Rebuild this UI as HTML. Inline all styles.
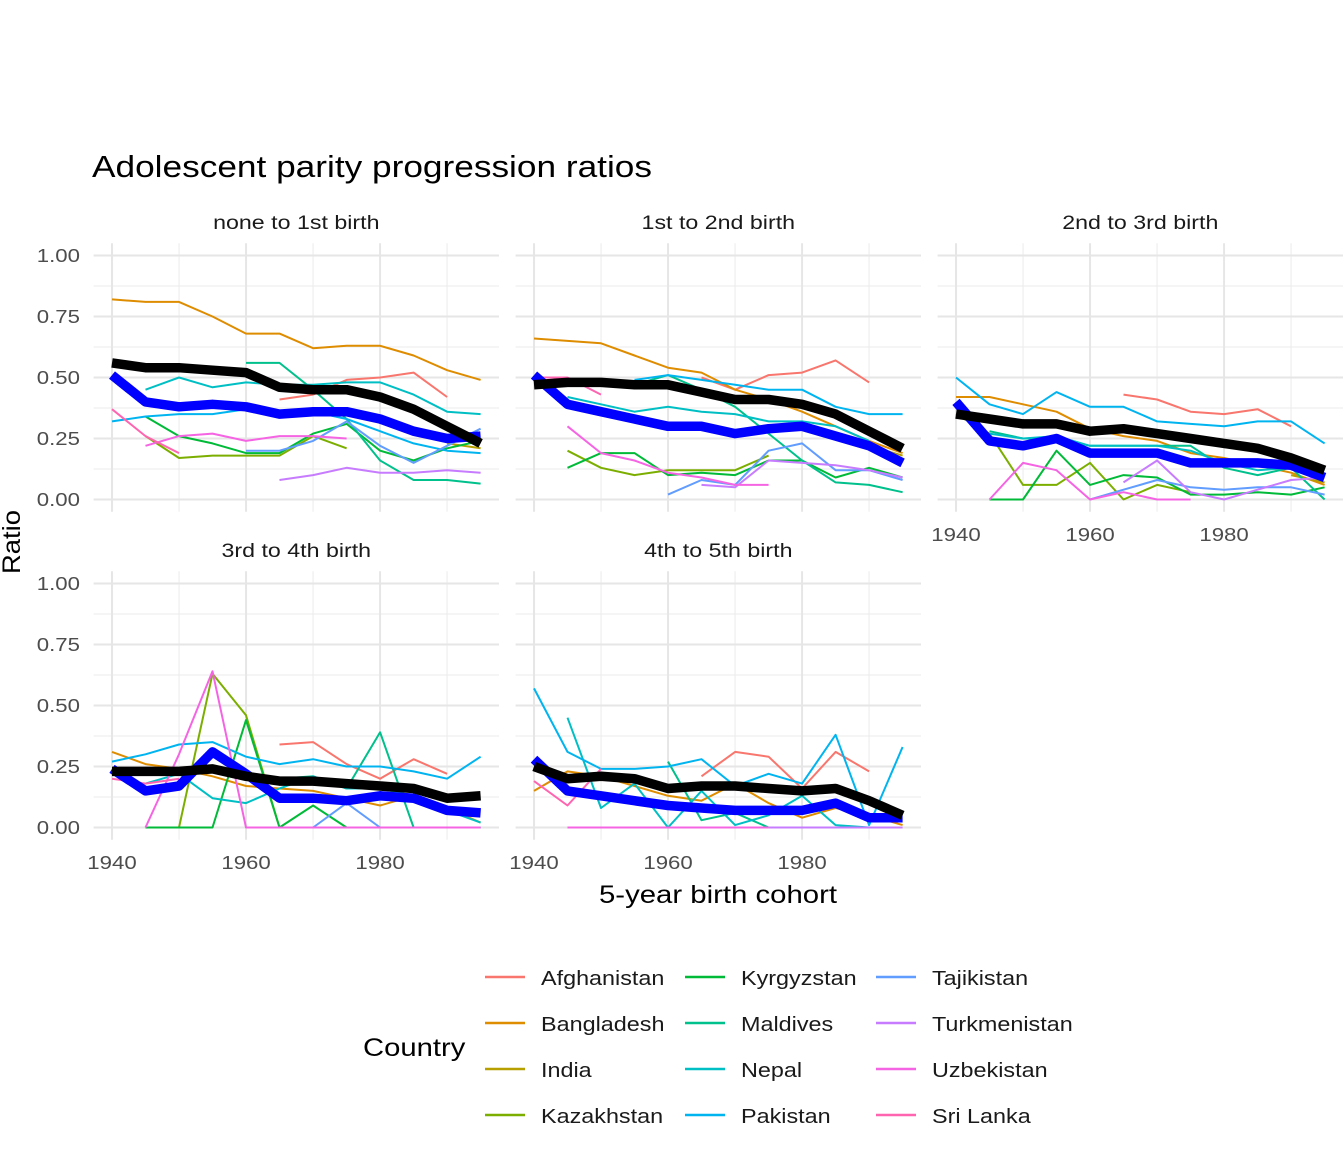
<!DOCTYPE html>
<html><head><meta charset="utf-8"><style>
body{margin:0;background:#fff;}
svg text{font-family:"Liberation Sans",Arial,sans-serif;}
</style></head><body>
<svg id="chart" width="1344" height="1152" xmlns="http://www.w3.org/2000/svg">
<rect width="1344" height="1152" fill="#fff"/>
<text class="wide" x="92" y="177" font-size="31" fill="#000" textLength="560" lengthAdjust="spacingAndGlyphs">Adolescent parity progression ratios</text>
<g id="panels"></g>
<text x="718" y="903" font-size="25" text-anchor="middle" fill="#000" textLength="238" lengthAdjust="spacingAndGlyphs">5-year birth cohort</text>
<text transform="translate(20,542) rotate(-90)" font-size="25" text-anchor="middle" fill="#000" textLength="64" lengthAdjust="spacingAndGlyphs">Ratio</text>
<g id="legend"></g>
</svg>
<script>
const years = [1940,1945,1950,1955,1960,1965,1970,1975,1980,1985,1990,1995];
const panelTitles = ["none to 1st birth","1st to 2nd birth","2nd to 3rd birth","3rd to 4th birth","4th to 5th birth"];
const xTicks = [1940,1960,1980];
const yTicks = [0,0.25,0.5,0.75,1];
const yTickLabels = ["0.00","0.25","0.50","0.75","1.00"];
const countries = ["Afghanistan","Bangladesh","India","Kazakhstan","Kyrgyzstan","Maldives","Nepal","Pakistan","Tajikistan","Turkmenistan","Uzbekistan","Sri Lanka"];
const N = null;
const afghanistan = [
 [N,N,N,N,N,.41,.43,.49,.50,.52,.42,N],
 [N,N,N,N,N,.50,.45,.51,.52,.57,.48,N],
 [N,N,N,N,N,.43,.41,.36,.35,.37,.30,N],
 [N,N,N,N,N,.34,.35,.26,.20,.28,.22,N],
 [N,N,N,N,N,.21,.31,.29,.16,.31,.23,N]];
const bangladesh = [
 [.82,.81,.81,.75,.68,.68,.62,.63,.63,.59,.53,.49],
 [.66,.65,.64,.59,.54,.52,.45,.41,.36,.30,.24,.19],
 [.42,.42,.39,.36,.29,.26,.24,.19,.17,.14,.11,.06],
 [.31,.26,.24,.21,.17,.16,.15,.12,.09,.13,.08,.02],
 [.15,.23,.21,.17,.13,.11,.18,.10,.04,.08,.05,.01]];
const india = [
 [N,N,N,N,N,N,N,N,N,N,.23,.21],
 [.46,N,N,N,N,N,N,N,N,N,.22,.18],
 [.33,N,N,N,N,N,N,N,N,N,.10,.07],
 [N,N,N,N,N,N,N,N,N,N,N,N],
 [N,N,N,N,N,N,N,N,N,N,N,N]];
const kazakhstan = [
 [N,.26,.17,.18,.18,.18,.26,.21,N,N,N,N],
 [N,.20,.13,.10,.12,.12,.12,.18,N,N,N,N],
 [.35,.27,.06,.06,.15,0,.06,.03,N,N,N,N],
 [N,0,0,.63,.46,0,N,N,N,N,N,N],
 [N,N,N,N,N,N,N,N,N,N,N,N]];
const kyrgyzstan = [
 [N,.34,.26,.23,.19,.19,.27,.31,.20,.16,.21,.24],
 [N,.13,.19,.19,.10,.11,.10,.16,.16,.09,.13,.09],
 [N,0,0,.20,.06,.10,.09,.02,.02,.03,.02,.05],
 [N,0,0,0,.44,0,.09,0,N,N,N,N],
 [N,N,N,N,N,N,N,N,N,N,N,N]];
const maldives = [
 [N,N,N,N,.56,.56,.45,.33,.16,.08,.08,.065],
 [N,N,N,.47,.51,.45,.38,.27,.16,.07,.06,.03],
 [N,.28,.25,.25,.22,.22,.22,.22,.13,.10,.13,0],
 [N,N,N,N,N,.20,.21,.16,.39,0,0,0],
 [N,N,N,N,.27,.03,.06,0,N,N,N,N]];
const nepal = [
 [N,.45,.50,.46,.48,.47,.47,.48,.48,.43,.36,.35],
 [N,.42,.39,.36,.38,.36,.35,.32,.32,.30,.24,N],
 [N,.27,.25,.26,.22,.22,.22,.20,.15,.12,.13,N],
 [N,.18,.22,.12,.10,.16,.21,.16,.16,.13,.07,.02],
 [N,.45,.08,.18,0,.15,.01,.05,.13,.01,0,N]];
const pakistan = [
 [.32,.34,.35,.35,.37,.36,.36,.33,.28,.23,.20,.19],
 [N,N,N,.49,.51,.49,.47,.45,.45,.38,.35,.35],
 [.50,.39,.35,.44,.38,.38,.32,.31,.30,.32,.32,.23],
 [.27,.30,.34,.35,.29,.26,.28,.25,.25,.23,.20,.29],
 [.57,.31,.24,.24,.25,.28,.17,.22,.18,.38,.01,.33]];
const tajikistan = [
 [N,N,N,N,.20,.20,.24,.32,.22,.15,.22,.29],
 [N,N,N,N,.02,.08,.06,.20,.23,.12,.12,.08],
 [N,N,N,N,0,.04,.08,.05,.04,.05,.05,.02],
 [N,N,N,N,N,N,0,.10,0,0,0,0],
 [N,N,N,N,N,N,N,N,N,N,N,N]];
const turkmenistan = [
 [N,N,N,N,N,.08,.10,.13,.11,.11,.12,.11],
 [N,N,N,N,N,.06,.05,.16,.15,.14,.12,.09],
 [N,N,N,N,N,.07,.16,.03,0,.04,.08,.09],
 [N,N,N,N,N,N,N,0,0,0,0,0],
 [N,N,N,N,N,N,N,0,0,0,0,0]];
const uzbekistan = [
 [N,.22,.26,.27,.24,.26,.26,.25,N,N,N,N],
 [N,.30,.19,.16,.11,.09,.06,.06,N,N,N,N],
 [N,0,.15,.12,0,.03,0,0,N,N,N,N],
 [N,0,.30,.64,0,0,0,0,0,0,0,0],
 [N,0,0,0,0,0,0,0,N,N,N,N]];
const sriLanka = [
 [.37,.26,.19,N,N,N,N,N,N,N,N,N],
 [.50,.50,.43,N,N,N,N,N,N,N,N,N],
 [N,N,N,N,N,N,N,N,N,N,N,N],
 [.20,.18,.20,N,N,N,N,N,N,N,N,N],
 [.19,.09,.24,N,N,N,N,N,N,N,N,N]];
const blueAvg = [
 [.51,.40,.38,.39,.38,.35,.36,.36,.33,.28,.25,.26],
 [.51,.39,.36,.33,.30,.30,.27,.29,.30,.26,.22,.15],
 [.40,.24,.22,.25,.19,.19,.19,.15,.15,.15,.14,.09],
 [.24,.15,.17,.31,.22,.12,.12,.11,.13,.12,.07,.06],
 [.28,.15,.13,.11,.09,.08,.07,.07,.07,.10,.04,.04]];
const blackAvg = [
 [.56,.54,.54,.53,.52,.46,.45,.45,.42,.37,.30,.23],
 [.47,.48,.48,.47,.47,.44,.41,.41,.39,.35,.28,.21],
 [.35,.33,.31,.31,.28,.29,.27,.25,.23,.21,.17,.12],
 [.23,.23,.23,.24,.21,.19,.19,.18,.17,.16,.12,.13],
 [.25,.20,.21,.20,.16,.17,.17,.16,.15,.16,.11,.05]];

const seriesData = [afghanistan,bangladesh,india,kazakhstan,kyrgyzstan,maldives,nepal,pakistan,tajikistan,turkmenistan,uzbekistan,sriLanka];
const colors = ["#F8766D","#DE8C00","#B79F00","#7CAE00","#00BA38","#00C08B","#00BFC4","#00B4F0","#619CFF","#C77CFF","#F564E3","#FF64B0"];

const NS="http://www.w3.org/2000/svg";
function mk(tag,attrs,parent){const e=document.createElementNS(NS,tag);for(const k in attrs)e.setAttribute(k,attrs[k]);parent.appendChild(e);return e;}
function widen(t,f){const w=t.getComputedTextLength();t.setAttribute('textLength',(w*f).toFixed(1));t.setAttribute('lengthAdjust','spacingAndGlyphs');}
const panelOrigins=[[0,0],[422,0],[844,0],[0,328],[422,328]];
const XMIN=1937.25,XMAX=1997.75,YMIN=-0.05,YMAX=1.05;
const PL=93.6,PR=499,PT=243.3,PB=511.7;
const panelsG=document.getElementById('panels');
panelTitles.forEach((title,p)=>{
  const [ox,oy]=panelOrigins[p];
  const xs=v=>ox+PL+(v-XMIN)/(XMAX-XMIN)*(PR-PL);
  const ys=v=>oy+PB-(v-YMIN)/(YMAX-YMIN)*(PB-PT);
  const g=mk('g',{},panelsG);
  
  
  [1950,1970,1990].forEach(v=>{const l=mk('line',{x1:xs(v),x2:xs(v),y1:oy+PT,y2:oy+PB,stroke:'#ebebeb','stroke-width':1},g);});
  [0.125,0.375,0.625,0.875].forEach(v=>{const l=mk('line',{x1:ox+PL,x2:ox+PR,y1:ys(v),y2:ys(v),stroke:'#ebebeb','stroke-width':1},g);});
  xTicks.forEach(v=>{const l=mk('line',{x1:xs(v),x2:xs(v),y1:oy+PT,y2:oy+PB,stroke:'#e6e6e6','stroke-width':2},g);});
  yTicks.forEach(v=>{const l=mk('line',{x1:ox+PL,x2:ox+PR,y1:ys(v),y2:ys(v),stroke:'#e6e6e6','stroke-width':2},g);});
  const st=mk('text',{x:ox+(PL+PR)/2,y:oy+229,'font-size':19.5,'text-anchor':'middle',fill:'#1a1a1a'},g);
  st.textContent=title;
  
  
  widen(st,1.19);
  if(p===0||p===3){yTicks.forEach((v,i)=>{const t=mk('text',{x:ox+80,y:ys(v)+6.5,'font-size':18.5,'text-anchor':'end',fill:'#4d4d4d'},g);t.textContent=yTickLabels[i];widen(t,1.2);});}
  if(p>=2){xTicks.forEach(v=>{const t=mk('text',{x:xs(v),y:oy+541,'font-size':18.5,'text-anchor':'middle',fill:'#4d4d4d'},g);t.textContent=v;widen(t,1.2);});}
  function drawLine(vals,color,w,name){
    let segs=[],cur=[];
    vals.forEach((v,i)=>{if(v===null){if(cur.length)segs.push(cur);cur=[];}else cur.push(xs(years[i]).toFixed(1)+','+ys(v).toFixed(1));});
    if(cur.length)segs.push(cur);
    segs.forEach(s=>{if(s.length<2)return;const pl=mk('polyline',{points:s.join(' '),fill:'none',stroke:color,'stroke-width':w,'stroke-linejoin':'round'},g);
      
      });
  }
  seriesData.forEach((arr,c)=>drawLine(arr[p],colors[c],2,'line-'+countries[c].toLowerCase().replace(' ','-')));
  drawLine(blueAvg[p],'#0000ff',9.5,'line-average-blue');
  drawLine(blackAvg[p],'#000000',9.5,'line-average-black');
});
const lg=document.getElementById('legend');
const ct=mk('text',{x:363,y:1056,'font-size':25,fill:'#000'},lg);
ct.textContent='Country';


widen(ct,1.17);
const colX=[485,685,876];
countries.forEach((c,i)=>{
  const col=Math.floor(i/4),row=i%4;
  const y=977+row*46;
  const g=mk('g',{},lg);
  
  
  mk('line',{x1:colX[col],x2:colX[col]+40,y1:y,y2:y,stroke:colors[i],'stroke-width':2.5},g);
  const t=mk('text',{x:colX[col]+56,y:y+8,'font-size':20.5,fill:'#1a1a1a'},g);
  t.textContent=c;
  widen(t,1.14);
});
</script>
</body></html>
